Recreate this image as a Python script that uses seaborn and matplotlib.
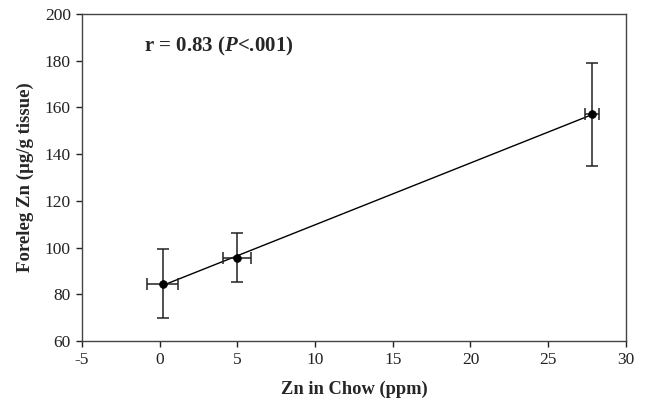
import numpy as np
import pandas as pd
import matplotlib.pyplot as plt
import seaborn as sns

# values
zn_chow = [0.2, 5.0, 27.8]
zn_chow_err = [1.0, 0.9, 0.45]
foreleg_zn = [84.5, 95.7, 157.0]
foreleg_zn_err = [14.8, 10.5, 22.0]

df = pd.DataFrame({'chow': zn_chow, 'foreleg': foreleg_zn})

sns.set_style('ticks')
plt.rcParams['font.family'] = ['Liberation Serif', 'DejaVu Serif']
plt.rcParams['axes.unicode_minus'] = False
plt.rcParams['mathtext.fontset'] = 'custom'
plt.rcParams['mathtext.rm'] = 'Liberation Serif'
plt.rcParams['mathtext.it'] = 'Liberation Serif:italic:bold'
plt.rcParams['mathtext.bf'] = 'Liberation Serif:bold'

fig = plt.figure(figsize=(6.54, 4.03), dpi=100)
ax = fig.add_axes([0.1254, 0.1538, 0.8316, 0.8115])

# regression line across the data range
sns.regplot(data=df, x='chow', y='foreleg', ax=ax, scatter=False, ci=None,
            truncate=True, line_kws={'color': 'black', 'lw': 1.0})

ax.errorbar(zn_chow, foreleg_zn, xerr=zn_chow_err, yerr=foreleg_zn_err,
            fmt='none', ecolor='#222222', elinewidth=1.1, capsize=4.3, capthick=1.1)
sns.scatterplot(data=df, x='chow', y='foreleg', ax=ax, color='black', s=32,
                edgecolor='black', zorder=5)

ax.set_xlim(-5, 30)
ax.set_ylim(60, 200)
ax.set_xticks(range(-5, 31, 5))
ax.set_yticks(range(60, 201, 20))
ax.tick_params(direction='out', length=4, width=1, labelsize=12.5, colors='#222222', pad=4)
for s in ax.spines.values():
    s.set_visible(True)
    s.set_color('#444444')
    s.set_linewidth(1.0)

ax.set_xlabel('Zn in Chow (ppm)', fontsize=13.3, fontweight='bold', labelpad=9)
ax.set_ylabel('Foreleg Zn (µg/g tissue)', fontsize=13.5, fontweight='bold', labelpad=8)

ax.text(-1.0, 186, r'r = 0.83 ($\it{P}$<.001)', fontsize=15, fontweight='bold',
        ha='left', va='center')

fig.savefig('out.png', dpi=100)
